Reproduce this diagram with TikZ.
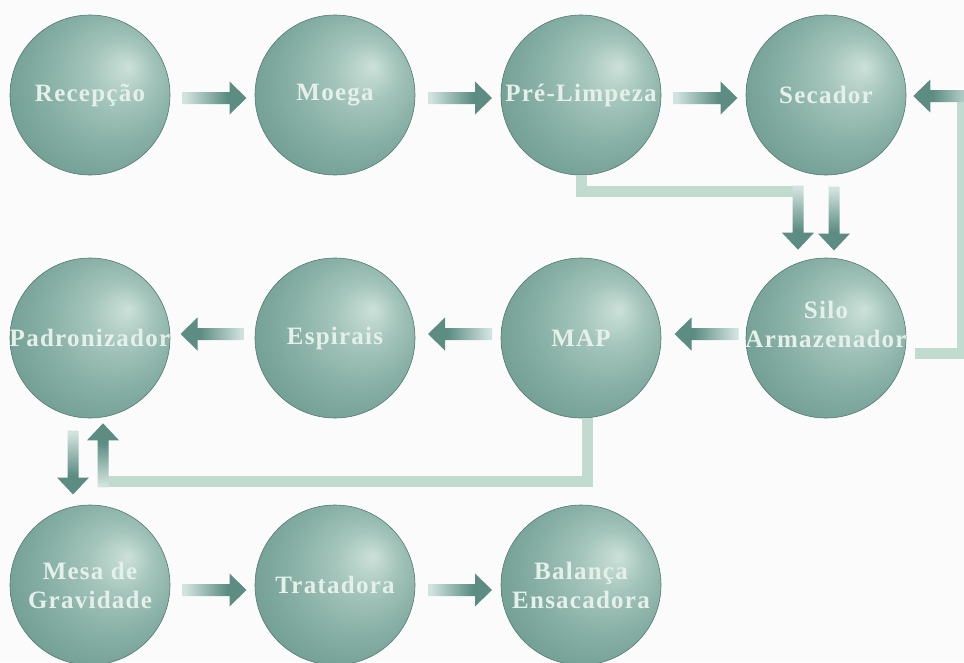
\documentclass[tikz,border=0pt]{standalone}
\usepackage{fontspec}
\newfontfamily\stagefont{Liberation Serif}[LetterSpace=5]
\usetikzlibrary{calc,positioning}

\definecolor{ballhl}{rgb}{0.80,0.88,0.85}
\definecolor{ballmid}{rgb}{0.64,0.77,0.73}
\definecolor{ballbody}{rgb}{0.52,0.68,0.64}
\definecolor{balledge}{rgb}{0.41,0.59,0.55}
\definecolor{ringcol}{rgb}{0.33,0.48,0.45}
\definecolor{labelcol}{rgb}{0.90,0.94,0.92}
\definecolor{fadelight}{rgb}{0.82,0.89,0.87}
\definecolor{fadedark}{rgb}{0.36,0.55,0.51}
\definecolor{routecol}{rgb}{0.76,0.86,0.82}
\definecolor{paper}{rgb}{0.985,0.985,0.985}

\pgfdeclareradialshading{ball}{\pgfpoint{12bp}{9bp}}{color(0bp)=(ballhl); color(10bp)=(ballmid); color(22bp)=(ballbody); color(37bp)=(balledge); color(50bp)=(balledge)}
\pgfdeclarehorizontalshading{arrowfade}{100bp}{color(0bp)=(fadelight); color(27bp)=(fadelight); color(60bp)=(fadedark); color(100bp)=(fadedark)}

\tikzset{
  stage/.style={circle, minimum size=160pt, inner sep=0pt, shading=ball, draw=ringcol, line width=0.6pt},
  stagetext/.style={text=labelcol, font=\stagefont\bfseries\fontsize{25}{29}\selectfont, align=center, inner sep=0pt},
  route/.style={draw=routecol, line width=11pt},
  pics/rarr/.style={code={\shade[shading=arrowfade, shading angle=0] (-32,-6) -- (15,-6) -- (15,-16.5) -- (32,0) -- (15,16.5) -- (15,6) -- (-32,6) -- cycle;}},
  pics/larr/.style={code={\shade[shading=arrowfade, shading angle=180] (32,-6) -- (-15,-6) -- (-15,-16.5) -- (-32,0) -- (-15,16.5) -- (-15,6) -- (32,6) -- cycle;}},
  pics/darr/.style={code={\shade[shading=arrowfade, shading angle=-90] (-5.5,-32) -- (-5.5,15) -- (-16,15) -- (0,32) -- (16,15) -- (5.5,15) -- (5.5,-32) -- cycle;}},
  pics/uarr/.style={code={\shade[shading=arrowfade, shading angle=90] (-5.5,32) -- (-5.5,-15) -- (-16,-15) -- (0,-32) -- (16,-15) -- (5.5,-15) -- (5.5,32) -- cycle;}}
}

\begin{document}
\begin{tikzpicture}[x=1pt,y=-1pt]
\useasboundingbox (0,0) rectangle (964,662);
\fill[paper] (0,0) rectangle (964,662);
% row 1
\node[stage] (rec) at (90,95) {};
\node[stage] (moe) at (335,95) {};
\node[stage] (pre) at (581,95) {};
\node[stage] (sec) at (826,95) {};
% row 2
\node[stage] (pad) at (90,338) {};
\node[stage] (esp) at (335,338) {};
\node[stage] (map) at (581,338) {};
\node[stage] (silo) at (826,338) {};
% row 3
\node[stage] (mesa) at (90,585) {};
\node[stage] (trat) at (335,585) {};
\node[stage] (bal) at (581,585) {};
% labels
\node[stagetext] at (rec) {Recepção};
\node[stagetext] at (moe) {Moega};
\node[stagetext] at (pre) {Pré-Limpeza};
\node[stagetext] at (sec) {Secador};
\node[stagetext] at (pad) {Padronizador};
\node[stagetext] at (esp) {Espirais};
\node[stagetext] at (map) {MAP};
\node[stagetext] at ($(silo)+(0,-14)$) {Silo\\Armazenador};
\node[stagetext] at (mesa) {Mesa de\\Gravidade};
\node[stagetext] at (trat) {Tratadora};
\node[stagetext] at (bal) {Balança\\Ensacadora};
% straight flow
\pic at ($(rec.east)!0.5!(moe.west)+(2,3)$) {rarr};
\pic at ($(moe.east)!0.5!(pre.west)+(2,3)$) {rarr};
\pic at ($(pre.east)!0.5!(sec.west)+(2,3)$) {rarr};
\pic at ($(silo.west)!0.5!(map.east)+(3,-4)$) {larr};
\pic at ($(map.west)!0.5!(esp.east)+(2,-4)$) {larr};
\pic at ($(esp.west)!0.5!(pad.east)+(0,-4)$) {larr};
\pic at ($(mesa.east)!0.5!(trat.west)+(2,5)$) {rarr};
\pic at ($(trat.east)!0.5!(bal.west)+(2,5)$) {rarr};
\pic at ($(pad.south)!0.5!(mesa.north)+(-17,1)$) {darr};
\pic at ($(sec.south)!0.5!(silo.north)+(8,2)$) {darr};
% returns
\coordinate (preturn) at ($(silo.north)+(-28,-66)$);
\draw[route] (pre.south) |- (preturn);
\pic at ($(preturn)+(0,26)$) {darr};
\draw[route] ([xshift=6pt]map.south) |- ($(pad.south)+(13,63)$);
\pic at ($(pad.south)+(13,37)$) {uarr};
\draw[route] ($(silo.east)+(9,15)$) -- ++(47,0) |- ($(sec.east)+(39,1)$);
\pic at ($(sec.east)+(39,1)$) {larr};
\end{tikzpicture}
\end{document}
